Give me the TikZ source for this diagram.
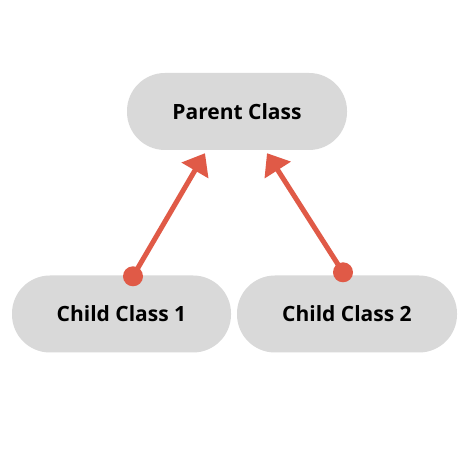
\documentclass[tikz,border=0pt]{standalone}
\usepackage{fontspec}
\setmainfont{Open Sans}
\usetikzlibrary{arrows.meta}
\definecolor{boxgray}{HTML}{D9D9D9}
\definecolor{arrowred}{HTML}{E05A47}
\begin{document}
\begin{tikzpicture}[x=1pt,y=1pt,
  classbox/.style={fill=boxgray,draw=none,rounded corners=38pt,minimum width=220pt,minimum height=77pt,inner sep=0pt,font=\fontsize{21}{25}\selectfont\bfseries,text=black},
  inherit/.style={draw=arrowred,line width=5pt,-{Triangle[length=20pt,width=30pt]}},
  dotstyle/.style={fill=arrowred}]
\useasboundingbox (0,0) rectangle (474,474);
\fill[white] (0,0) rectangle (474,474);
\node[classbox] (p) at (237,362.5) {Parent Class};
\node[classbox,minimum width=219pt] (c1) at (121.5,160) {Child Class 1};
\node[classbox] (c2) at (347,160) {Child Class 2};
\coordinate (d1) at ([xshift=11.5pt,yshift=-1pt]c1.north);
\coordinate (t1) at ([xshift=-32pt,yshift=-3pt]p.south);
\coordinate (d2) at ([xshift=-4pt,yshift=3pt]c2.north);
\coordinate (t2) at ([xshift=30pt,yshift=-3pt]p.south);
\draw[inherit] (d1) -- (t1);
\draw[inherit] (d2) -- (t2);
\fill[dotstyle] (d1) circle (10pt);
\fill[dotstyle] (d2) circle (10pt);
\end{tikzpicture}
\end{document}
